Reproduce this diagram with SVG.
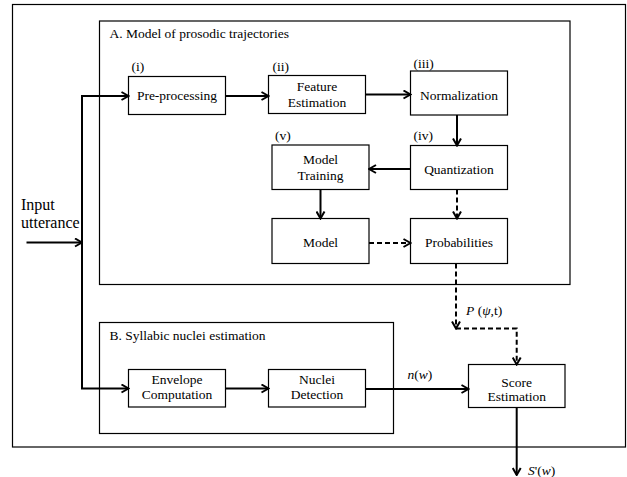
<svg xmlns="http://www.w3.org/2000/svg" width="627" height="477" viewBox="0 0 627 477">
<defs>
<style>
.box{fill:#fff;stroke:#000;stroke-width:1.2}
.frame{fill:none;stroke:#000;stroke-width:1.2}
.t{font-family:'Liberation Serif','Times New Roman','DejaVu Serif',serif;font-size:13.5px;fill:#000}
.c{text-anchor:middle}
.big{font-size:16px}
.i{font-style:italic}
.ln{fill:none;stroke:#000;stroke-width:2}
.dash{stroke-dasharray:5,3}
</style>
<marker id="arr" viewBox="0 0 10 10" refX="9" refY="5" markerWidth="10" markerHeight="10" markerUnits="userSpaceOnUse" orient="auto">
<path d="M2,1 L9,5 L2,9" fill="none" stroke="#000" stroke-width="2" stroke-dasharray="none"/>
</marker>
</defs>
<rect width="627" height="477" fill="#fff"/>
<g font-family="Liberation Serif, Times New Roman, DejaVu Serif, serif">
<rect id="outer" class="frame" x="12.5" y="4.5" width="613" height="442.5"/>
<g id="groupA">
<rect class="frame" x="99.5" y="21" width="470.5" height="263.5"/>
<text class="t" x="109.5" y="38">A. Model of prosodic trajectories</text>
</g>
<g id="groupB">
<rect class="frame" x="99.5" y="322.5" width="294" height="111"/>
<text class="t" x="109.5" y="340">B. Syllabic nuclei estimation</text>
</g>
<g id="input">
<text class="t big" x="21" y="209.5">Input</text>
<text class="t big" x="21" y="227.5">utterance</text>
</g>
<g id="preprocessing">
<rect class="box" x="128.5" y="76.5" width="97" height="38"/>
<text class="t" x="131.5" y="70.5">(i)</text>
<text class="t c" x="177" y="99.5">Pre-processing</text>
</g>
<g id="feature">
<rect class="box" x="268.5" y="75.5" width="97" height="38"/>
<text class="t" x="272.5" y="70.5">(ii)</text>
<text class="t c" x="317" y="90.7">Feature</text>
<text class="t c" x="317" y="106.7">Estimation</text>
</g>
<g id="normalization">
<rect class="box" x="410.5" y="71" width="97" height="44"/>
<text class="t" x="413.5" y="68">(iii)</text>
<text class="t c" x="459" y="100">Normalization</text>
</g>
<g id="quantization">
<rect class="box" x="410.5" y="145.5" width="97" height="44"/>
<text class="t" x="413.5" y="140">(iv)</text>
<text class="t c" x="459" y="173.5">Quantization</text>
</g>
<g id="training">
<rect class="box" x="272" y="145" width="97" height="44.5"/>
<text class="t" x="275" y="140">(v)</text>
<text class="t c" x="320.5" y="164">Model</text>
<text class="t c" x="320.5" y="179.5">Training</text>
</g>
<g id="model">
<rect class="box" x="272" y="218.5" width="97" height="45"/>
<text class="t c" x="320.5" y="247">Model</text>
</g>
<g id="probabilities">
<rect class="box" x="410.5" y="218.5" width="97" height="45"/>
<text class="t c" x="459" y="247">Probabilities</text>
</g>
<g id="envelope">
<rect class="box" x="128.5" y="369.5" width="97" height="37.5"/>
<text class="t c" x="177" y="383.5">Envelope</text>
<text class="t c" x="177" y="398.5">Computation</text>
</g>
<g id="nuclei">
<rect class="box" x="268.5" y="369.5" width="97" height="37.5"/>
<text class="t c" x="317" y="383.5">Nuclei</text>
<text class="t c" x="317" y="398.5">Detection</text>
</g>
<g id="score">
<rect class="box" x="468.5" y="364.5" width="96.5" height="43"/>
<text class="t c" x="516.7" y="386.5">Score</text>
<text class="t c" x="516.7" y="401">Estimation</text>
</g>
<g id="connectors">
<path class="ln" d="M26.5,242.5 H82" marker-end="url(#arr)"/>
<path class="ln" d="M82,96 V388.5"/>
<path class="ln" d="M81,96 H128.5" marker-end="url(#arr)"/>
<path class="ln" d="M81,388.5 H128.5" marker-end="url(#arr)"/>
<path class="ln" d="M225.5,96 H268.5" marker-end="url(#arr)"/>
<path class="ln" d="M365.5,94.5 H410.5" marker-end="url(#arr)"/>
<path class="ln" d="M457,115 V145.5" marker-end="url(#arr)"/>
<path class="ln" d="M410.5,169 H369" marker-end="url(#arr)"/>
<path class="ln" d="M320.5,189.5 V218.5" marker-end="url(#arr)"/>
<path class="ln dash" d="M457,189.5 V218.5" marker-end="url(#arr)"/>
<path class="ln dash" d="M369,243 H410.5" marker-end="url(#arr)"/>
<path class="ln dash" d="M456,263.5 V328.5" marker-end="url(#arr)"/>
<path class="ln dash" d="M456,328.5 H516.7 V364.5" marker-end="url(#arr)"/>
<path class="ln" d="M225.5,388.5 H268.5" marker-end="url(#arr)"/>
<path class="ln" d="M365.5,389 H468.5" marker-end="url(#arr)"/>
<path class="ln" d="M516.7,407.5 V475" marker-end="url(#arr)"/>
<text class="t" x="466" y="314.5"><tspan class="i">P</tspan> (<tspan class="i">ψ</tspan>,t)</text>
<text class="t" x="407.5" y="378.5"><tspan class="i">n</tspan>(<tspan class="i">w</tspan>)</text>
<text class="t" x="528" y="475"><tspan class="i">S</tspan>'(<tspan class="i">w</tspan>)</text>
</g>
</g>
</svg>
